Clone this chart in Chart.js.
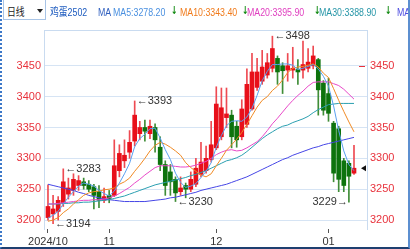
<!DOCTYPE html>
<html><head><meta charset="utf-8">
<script src="https://cdn.jsdelivr.net/npm/chart.js@4.4.1/dist/chart.umd.min.js"></script>
<style>
html,body{margin:0;padding:0;background:#fff;}
#wrap{position:relative;width:410px;height:249px;overflow:hidden;background:#fff;}
#c{position:absolute;left:0;top:0;width:410px;height:249px;}
.h{position:absolute;top:5px;font:11px "Liberation Sans","Noto Sans CJK SC",sans-serif;white-space:nowrap;transform:scaleX(0.8);transform-origin:0 0;line-height:14px;}
.ar{position:absolute;top:4px;font:bold 11px "DejaVu Sans",sans-serif;color:#118a11;transform:scaleX(0.7);transform-origin:0 0;line-height:14px;}
.frame{position:absolute;left:0;top:0;width:410px;height:249px;box-sizing:border-box;border-left:2px dotted #3d78c8;border-bottom:2px solid #1e3f70;border-right:2px solid #5c8fd0;pointer-events:none;}
.sel{position:absolute;left:3px;top:-1px;width:43px;height:21px;box-sizing:border-box;border:1px solid #a8c4e6;background:#fff;}
.tri{position:absolute;left:37px;top:9px;width:0;height:0;border-left:3px solid transparent;border-right:3px solid transparent;border-top:4px solid #222;}
</style></head>
<body><div id="wrap">
<canvas id="c" width="410" height="249"></canvas>
<div class="sel"></div><div class="tri"></div>
<div class="h" style="left:7px;color:#222">日线</div>
<div class="h" style="left:50px;color:#1d5bbf">鸡蛋2502</div>
<div class="h" style="left:98px;color:#2f5fbf">MA</div>
<div class="h" style="left:113px;color:#4a90e0">MA5:3278.20</div>
<div class="ar" style="left:171px">↓</div>
<div class="h" style="left:180px;color:#f07b1c">MA10:3343.40</div>
<div class="ar" style="left:242px">↓</div>
<div class="h" style="left:247px;color:#e040c0">MA20:3395.90</div>
<div class="ar" style="left:314px">↓</div>
<div class="h" style="left:319px;color:#2796a8">MA30:3388.90</div>
<div class="ar" style="left:385px">↓</div>
<div class="h" style="left:397px;color:#4d4de0">MA60</div>
<div class="frame"></div>
</div>
<script>
// ---- data ----
const openP  = [3204,3210,3214,3228,3242,3248,3256,3262,3258,3254,3246,3232,3240,3240,3280,3296,3310,3328,3340,3350,3340,3350,3318,3290,3278,3266,3246,3256,3250,3258,3274,3280,3298,3317,3335,3366,3370,3352,3335,3355,3380,3415,3425,3435,3446,3462,3450,3443,3443,3444,3443,3446,3450,3460,3422,3405,3357,3348,3296,3292,3276];
const highP  = [3257,3240,3238,3283,3268,3275,3272,3268,3264,3258,3256,3252,3248,3330,3322,3330,3345,3393,3360,3362,3362,3356,3335,3296,3290,3270,3270,3260,3278,3300,3326,3320,3360,3416,3414,3414,3378,3360,3395,3445,3470,3462,3475,3470,3498,3466,3455,3470,3480,3460,3490,3478,3482,3462,3426,3430,3360,3352,3300,3296,3321];
const lowP   = [3200,3194,3200,3222,3234,3240,3248,3250,3246,3218,3220,3228,3228,3238,3270,3285,3300,3320,3330,3328,3332,3310,3280,3240,3240,3230,3240,3236,3246,3254,3270,3276,3294,3314,3330,3350,3317,3318,3330,3350,3378,3410,3420,3430,3440,3420,3405,3425,3430,3420,3430,3440,3445,3370,3370,3360,3262,3246,3246,3229,3274];
const closeP = [3222,3218,3232,3262,3252,3266,3264,3256,3250,3240,3232,3238,3235,3288,3308,3305,3326,3370,3350,3344,3352,3330,3290,3256,3262,3244,3252,3250,3266,3284,3294,3300,3322,3388,3382,3372,3335,3330,3380,3420,3440,3440,3448,3455,3478,3440,3442,3450,3446,3440,3452,3456,3466,3411,3378,3373,3276,3266,3256,3271,3284];
const ma5  = [3203,3208,3214,3226,3237,3246,3255,3260,3258,3255,3248,3243,3239,3247,3260,3275,3292,3319,3332,3339,3348,3349,3333,3314,3298,3276,3261,3253,3255,3259,3269,3279,3293,3318,3337,3353,3360,3361,3360,3367,3381,3402,3426,3441,3452,3452,3453,3453,3451,3444,3446,3449,3452,3445,3433,3417,3385,3345,3312,3290,3280];
const ma10 = [3198,3200,3204,3212,3218,3226,3233,3240,3244,3246,3247,3249,3250,3252,3258,3262,3268,3279,3289,3300,3312,3321,3326,3323,3318,3312,3305,3293,3285,3279,3273,3270,3275,3288,3300,3313,3322,3331,3342,3355,3369,3383,3394,3400,3410,3417,3427,3439,3446,3448,3449,3451,3453,3448,3438,3431,3413,3394,3376,3359,3343];
const ma20 = [3226,3226,3227,3228,3229,3230,3231,3232,3232,3233,3233,3234,3236,3239,3243,3248,3253,3260,3266,3273,3279,3285,3288,3288,3288,3287,3286,3286,3287,3289,3292,3295,3300,3306,3310,3313,3314,3312,3313,3317,3322,3327,3335,3345,3356,3365,3375,3385,3394,3402,3409,3417,3423,3424,3424,3424,3421,3418,3412,3404,3396];
const ma30 = [3226,3226,3226,3227,3227,3228,3228,3229,3229,3230,3231,3232,3233,3235,3237,3239,3242,3245,3248,3251,3254,3257,3259,3261,3263,3265,3267,3269,3272,3274,3277,3280,3284,3288,3292,3296,3298,3301,3305,3311,3318,3325,3332,3338,3343,3348,3352,3354,3358,3361,3364,3368,3374,3379,3383,3387,3388,3389,3389,3389,3389];
const ma60 = [3258,3256,3254,3252,3250,3248,3245,3243,3240,3238,3236,3234,3233,3232,3231,3230,3230,3230,3230,3230,3231,3232,3233,3234,3236,3237,3239,3241,3243,3245,3248,3250,3252,3254,3256,3258,3261,3264,3267,3270,3274,3278,3282,3286,3290,3294,3298,3301,3305,3308,3311,3314,3317,3319,3322,3324,3326,3328,3330,3332,3334];
const tickIdx = [0,12,33,55];
const tickLabels = ['2024/10','11','12','01'];
const yTicks = [3200,3250,3300,3350,3400,3450];
const marks = [{i:1,k:'low'},{i:3,k:'high'},{i:17,k:'high'},{i:25,k:'low'},{i:44,k:'high'},{i:59,k:'low',left:true}];

// ---- styles ----
const UP='#e8101a', DN='#0d730d', UPW='#ee4a52', DNW='#3f8d37';
const FONT='"Liberation Sans Narrow","Arial Narrow","Liberation Sans",Arial,sans-serif';
const n = closeP.length;
const idx = closeP.map((_,i)=>i);
const isUp = idx.map(i=>closeP[i]>=openP[i]);
const line = (arr,color)=>({type:'line',data:arr.map((v,i)=>({x:i,y:v})),borderColor:color,borderWidth:1,pointRadius:0,tension:0,order:0,yAxisID:'y'});

const deco = {
  id:'deco',
  beforeDatasetsDraw(ch){
    const {ctx,chartArea:a}=ch;
    ctx.save();ctx.strokeStyle='#c9dbf0';ctx.lineWidth=1;
    ctx.beginPath();ctx.moveTo(a.left,a.top+0.5);ctx.lineTo(a.right,a.top+0.5);ctx.stroke();
    ctx.restore();
  },
  afterDatasetsDraw(ch){
    const {ctx,chartArea:a,scales:{x,y}}=ch;
    ctx.save();
    ctx.font='11px '+FONT;ctx.fillStyle='#333';ctx.textBaseline='middle';
    marks.forEach(m=>{
      const v = m.k==='high'?highP[m.i]:lowP[m.i];
      const px=x.getPixelForValue(m.i), py=y.getPixelForValue(v);
      if(m.left){ctx.textAlign='right';ctx.fillText(v+'→',px-1,py);}
      else{ctx.textAlign='left';ctx.fillText('←'+v,px+2,py);}
    });
    const yr=Math.round(y.getPixelForValue(3450))+0.5;
    ctx.strokeStyle='#e8323c';ctx.lineWidth=1;
    ctx.beginPath();ctx.moveTo(a.right-8,yr);ctx.lineTo(a.right-2,yr);ctx.stroke();
    const yl=y.getPixelForValue(closeP[n-1]);
    ctx.fillStyle='#111';ctx.beginPath();
    ctx.moveTo(a.right-6,yl);ctx.lineTo(a.right-1,yl-3);ctx.lineTo(a.right-1,yl+3);ctx.closePath();ctx.fill();
    ctx.restore();
  }
};

const yTickOpts = {padding:3,color:'#e8323c',font:{family:FONT,size:11},callback:(v)=>String(v)};

new Chart(document.getElementById('c'),{
  type:'bar',
  data:{datasets:[
    line(ma5,'#5aa0f0'),line(ma10,'#f08a24'),line(ma20,'#e848c8'),line(ma30,'#2a9fb0'),line(ma60,'#4646e6'),
    {type:'bar',data:idx.map(i=>({x:i,y:[openP[i],closeP[i]]})),backgroundColor:idx.map(i=>isUp[i]?UP:DN),barThickness:4,minBarLength:1,grouped:false,order:1,yAxisID:'y'},
    {type:'bar',data:idx.map(i=>({x:i,y:[lowP[i],highP[i]]})),backgroundColor:idx.map(i=>isUp[i]?UPW:DNW),barThickness:1,grouped:false,order:2,yAxisID:'y'}
  ]},
  options:{
    responsive:false,animation:false,devicePixelRatio:1,
    layout:{padding:{top:30,left:0,right:0,bottom:0}},
    plugins:{legend:{display:false},tooltip:{enabled:false}},
    scales:{
      x:{type:'linear',min:-0.78,max:62.55,offset:false,
        afterBuildTicks(s){s.ticks=tickIdx.map(v=>({value:v}));},
        afterFit(s){s.height=20;},
        grid:{drawOnChartArea:false,drawTicks:true,tickLength:4,color:'#555',tickColor:'#555',offset:false},
        border:{display:false},
        ticks:{autoSkip:false,maxRotation:0,padding:2,color:'#333',font:{family:FONT,size:11},
          callback(v){const k=tickIdx.indexOf(v);return k>=0?tickLabels[k]:'';}}
      },
      y:{type:'linear',position:'left',min:3185.5,max:3508,
        afterBuildTicks(s){s.ticks=yTicks.map(v=>({value:v}));},
        afterFit(s){s.width=44;},
        grid:{color:'#d6e4f4',drawTicks:false},
        border:{display:true,color:'#c9dbf0'},
        ticks:yTickOpts
      },
      y2:{type:'linear',position:'right',min:3185.5,max:3508,
        afterBuildTicks(s){s.ticks=yTicks.map(v=>({value:v}));},
        afterFit(s){s.width=43;},
        grid:{drawOnChartArea:false,drawTicks:false},
        border:{display:true,color:'#c9dbf0'},
        ticks:yTickOpts
      }
    }
  },
  plugins:[deco]
});
</script>
</body></html>
